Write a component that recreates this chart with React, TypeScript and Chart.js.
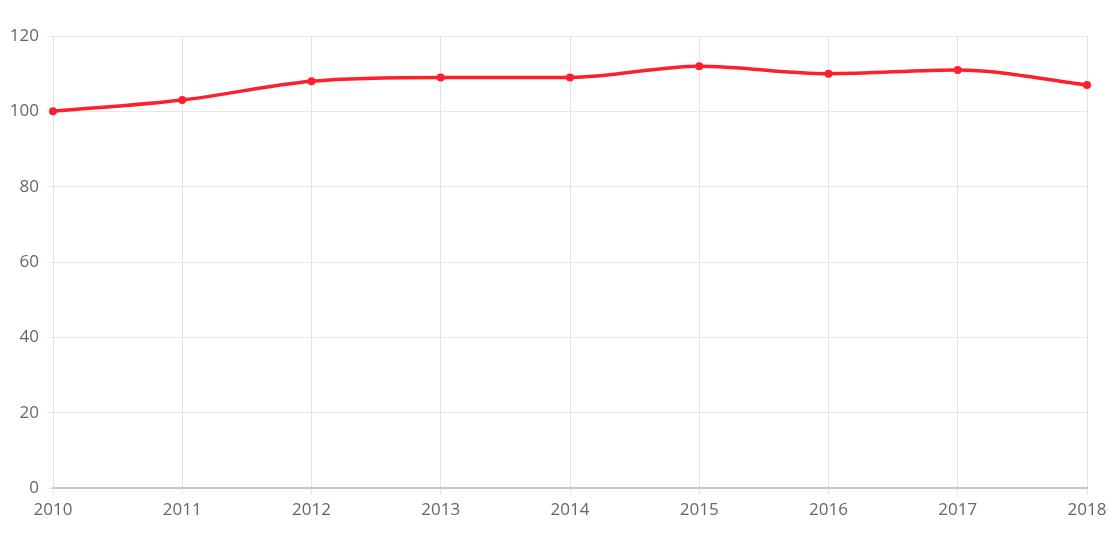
import React, { useEffect, useRef } from "react";
import { Chart, registerables } from "chart.js";

Chart.register(...registerables);

const years = ["2010", "2011", "2012", "2013", "2014", "2015", "2016", "2017", "2018"];
const values = [100, 103, 108, 109, 109, 112, 110, 111, 107];
const yMin = 0;
const yMax = 120;
const yStep = 20;

export default function App() {
  const ref = useRef<HTMLCanvasElement | null>(null);
  useEffect(() => {
    document.body.style.margin = "0";
    const ctx = ref.current!;
    const chart = new Chart(ctx, {
      type: "line",
      data: {
        labels: years,
        datasets: [
          {
            data: values,
            borderColor: "#ff1f2b",
            backgroundColor: "#ff1f2b",
            borderWidth: 3.5,
            pointRadius: 4,
            pointBackgroundColor: "#ff1f2b",
            pointBorderWidth: 0,
            tension: 0.4,
            cubicInterpolationMode: "monotone",
            fill: false,
          },
        ],
      },
      options: {
        animation: false,
        responsive: false,
        maintainAspectRatio: false,
        layout: { padding: { left: 0, right: 23, top: 36, bottom: 0 } },
        plugins: { legend: { display: false }, tooltip: { enabled: false } },
        scales: {
          x: {
            offset: false,
            afterFit: (s: any) => {
              s.height = 67;
              s.paddingLeft = 0;
              s.paddingRight = 0;
            },
            grid: { color: "#e3e3e3", drawTicks: true, tickLength: 6 },
            border: { color: "#c8c8c8", width: 2 },
            ticks: {
              color: "#666",
              font: { family: "Open Sans", size: 17 },
              maxRotation: 0,
              padding: 6,
            },
          },
          y: {
            min: yMin,
            max: yMax,
            afterFit: (s: any) => {
              s.width = 53;
            },
            grid: { color: "#e8e8e8", tickLength: 6 },
            border: { color: "#e3e3e3" },
            ticks: {
              stepSize: yStep,
              color: "#666",
              font: { family: "Open Sans", size: 17 },
              padding: 8,
            },
          },
        },
      },
    });
    return () => chart.destroy();
  }, []);
  return <canvas ref={ref} width={1110} height={555} style={{ display: "block" }} />;
}
